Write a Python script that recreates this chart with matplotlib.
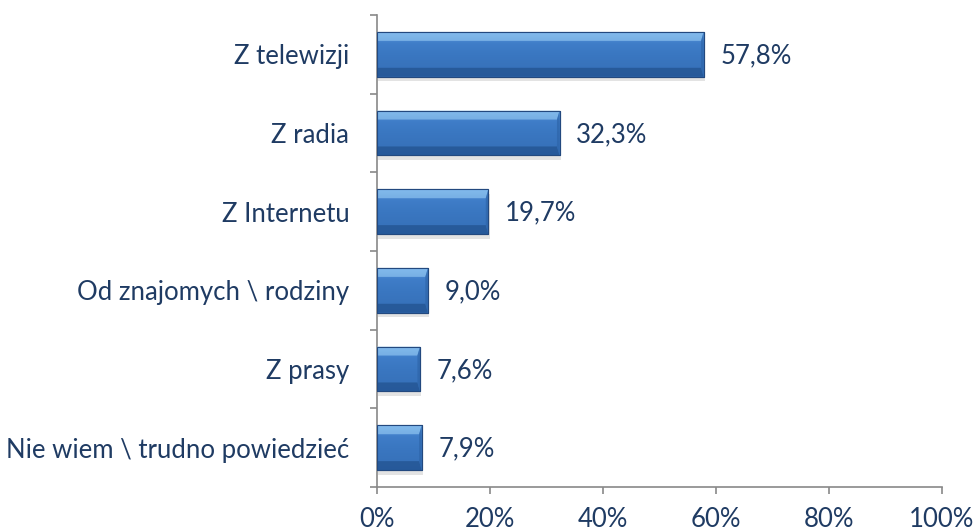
"""
Skąd czerpie informacje - poziomy wykres słupkowy (styl Excel z fazowaniem)
"""
import numpy as np
import matplotlib
matplotlib.use('Agg')
import matplotlib.pyplot as plt
from matplotlib.patches import Polygon, Rectangle
from matplotlib.colors import LinearSegmentedColormap

plt.rcParams['font.family'] = ['Lato', 'DejaVu Sans']

# dane
categories = ['Z telewizji', 'Z radia', 'Z Internetu',
              'Od znajomych \\ rodziny', 'Z prasy', 'Nie wiem \\ trudno powiedzieć']
values = [57.8, 32.3, 19.7, 9.0, 7.6, 7.9]
value_labels = ['57,8%', '32,3%', '19,7%', '9,0%', '7,6%', '7,9%']
xticks = [0, 20, 40, 60, 80, 100]
xtick_labels = ['0%', '20%', '40%', '60%', '80%', '100%']

text_color = '#1F3B63'
axis_color = '#898989'
fs = 18.5

fig = plt.figure(figsize=(9.75, 5.32), dpi=100)
ax = fig.add_axes([0.3867, 0.0846, 0.5795, 0.8872])

n = len(categories)
ypos = n - 1 - np.arange(n)   # pierwsza kategoria na gorze
bars = ax.barh(ypos, values, height=0.57, color='#3B78C3', edgecolor='#23497F',
               linewidth=0.8, zorder=3)

# gradient + fazowanie na kazdym slupku
cmap = LinearSegmentedColormap.from_list(
    'bev', ['#5E9FE0', '#3F7DC8', '#3A77C1', '#3873BC', '#3470B8'])
grad = np.linspace(0, 1, 100).reshape(-1, 1)
for b in bars:
    x0, y0, w, h = b.get_x(), b.get_y(), b.get_width(), b.get_height()
    # cien pod slupkiem
    ax.add_patch(Rectangle((x0 + 0.25, y0 - 0.06), w, h, color='#C8C8C8',
                           alpha=0.5, lw=0, zorder=2))
    im = ax.imshow(grad, cmap=cmap, aspect='auto', extent=(x0, x0 + w, y0, y0 + h),
                   origin='upper', zorder=3.5, interpolation='bicubic')
    im.set_clip_path(b)
    bev = h * 0.2
    bx = min(bev * 4.0, w * 0.3)
    # jasna krawedz gorna
    ax.add_patch(Polygon([(x0, y0 + h), (x0 + w, y0 + h), (x0 + w - bx, y0 + h - bev),
                          (x0, y0 + h - bev)], closed=True, color='#9ACDF5',
                         alpha=0.6, lw=0, zorder=4))
    # ciemna krawedz dolna
    ax.add_patch(Polygon([(x0, y0), (x0 + w, y0), (x0 + w - bx, y0 + bev),
                          (x0, y0 + bev)], closed=True, color='#1E4B86',
                         alpha=0.6, lw=0, zorder=4))
    # prawa krawedz
    ax.add_patch(Polygon([(x0 + w, y0), (x0 + w, y0 + h), (x0 + w - bx, y0 + h - bev),
                          (x0 + w - bx, y0 + bev)], closed=True, color='#2D64A8',
                         alpha=0.65, lw=0, zorder=4))
    ax.add_patch(Rectangle((x0, y0), w, h, fill=False, edgecolor='#23497F',
                           lw=0.8, zorder=5))

for b, lab in zip(bars, value_labels):
    ax.annotate(lab, xy=(b.get_width(), b.get_y() + b.get_height() / 2),
                xytext=(12, -1), textcoords='offset points', va='center', ha='left',
                fontsize=fs, color=text_color)

ax.set_xlim(0, 100)
ax.set_ylim(-0.5, n - 0.5)
ax.set_xticks(xticks)
ax.set_xticklabels(xtick_labels, fontsize=fs, color=text_color)
ax.set_yticks(ypos)
ax.set_yticklabels(categories, fontsize=fs, color=text_color)
ax.set_yticks(np.arange(-0.5, n, 1), minor=True)
ax.tick_params(axis='y', which='major', length=0, pad=20)
ax.tick_params(axis='y', which='minor', length=5, width=1.2, color=axis_color)
ax.tick_params(axis='x', length=5, width=1.2, color=axis_color, pad=9.5)

for s in ['top', 'right']:
    ax.spines[s].set_visible(False)
for s in ['left', 'bottom']:
    ax.spines[s].set_color(axis_color)
    ax.spines[s].set_linewidth(1.2)

fig.savefig('out.png', dpi=100)
